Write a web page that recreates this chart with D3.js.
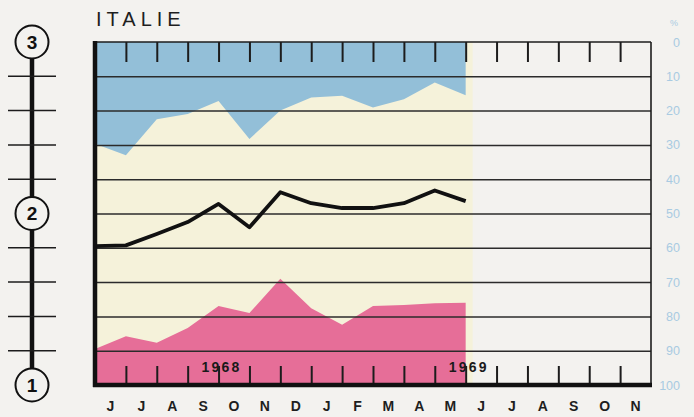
<!DOCTYPE html>
<html>
<head>
<meta charset="utf-8">
<script src="https://cdn.jsdelivr.net/npm/d3@7"></script>
<style>
  body { margin: 0; background: #f3f2ef; }
  svg { display: block; }
</style>
</head>
<body>
<svg id="chart" width="694" height="417"></svg>
<script>
// Month initials, June 1968 to November 1969
const months = ["J", "J", "A", "S", "O", "N", "D", "J", "F", "M", "A", "M", "J", "J", "A", "S", "O", "N"];
// Percent scale (0 at the top, 100 at the bottom)
const pctTicks = [0, 10, 20, 30, 40, 50, 60, 70, 80, 90, 100];
// Year markers placed on month boundaries
const yearNames = ["1968", "1969"];
const yearAt = [4, 12];
// Ringed markers on the left-hand scale
const ringNames = ["3", "2", "1"];
const ringAt = [0, 50, 100];
// Monthly readings (month boundaries 0..12), in percent from the top
const upperBand = [29.7, 33.0, 22.5, 21.0, 17.2, 28.3, 20.0, 16.2, 15.7, 19.1, 16.7, 11.8, 15.5];
const midLine   = [59.5, 59.3, 56.0, 52.5, 47.2, 54.0, 43.8, 47.0, 48.4, 48.4, 47.0, 43.3, 46.4];
const lowerBand = [89.5, 85.8, 87.7, 83.4, 77.0, 79.0, 69.0, 77.6, 82.4, 77.0, 76.7, 76.2, 76.0];

const svg = d3.select("#chart");
const plotL = 95, plotR = 651, plotT = 42, plotB = 385;

const x = d3.scaleLinear().domain([0, months.length]).range([plotL, plotR]);
const y = d3.scaleLinear().domain([0, 100]).range([plotT, plotB]);

const idx = d3.range(upperBand.length);
const lastX = x(idx.length - 1);

// Title
svg.append("text")
  .attr("x", 96).attr("y", 26)
  .attr("font-family", "Liberation Sans, Arial, sans-serif")
  .attr("font-size", 20)
  .attr("letter-spacing", 5)
  .attr("fill", "#1e1e1e")
  .text("ITALIE");

// Cream band covering the observed period
svg.append("rect")
  .attr("x", plotL).attr("y", plotT)
  .attr("width", lastX + 7 - plotL).attr("height", plotB - plotT)
  .attr("fill", "#f5f2da");

// Upper (blue) share, from the top edge down
svg.append("path")
  .datum(idx)
  .attr("fill", "#93bfd8")
  .attr("d", d3.area().x(i => x(i)).y0(y(0)).y1(i => y(upperBand[i])));

// Lower (pink) share, from the bottom edge up
svg.append("path")
  .datum(idx)
  .attr("fill", "#e66e98")
  .attr("d", d3.area().x(i => x(i)).y0(y(100)).y1(i => y(lowerBand[i])));

// Horizontal grid
const grid = svg.append("g")
  .attr("transform", `translate(${plotL},0)`)
  .call(d3.axisLeft(y).tickValues(pctTicks.slice(1, -1)).tickSize(-(plotR - plotL)).tickFormat(""));
grid.select(".domain").remove();
grid.selectAll("line").attr("stroke", "#2b2b2b").attr("stroke-width", 1.5);

// Month boundary ticks along the top and bottom edges
const bounds = d3.range(1, months.length);
const topTicks = svg.append("g")
  .attr("transform", `translate(0,${plotT})`)
  .call(d3.axisBottom(x).tickValues(bounds).tickSize(20).tickFormat(""));
topTicks.select(".domain").remove();
topTicks.selectAll("line").attr("stroke", "#1c1c1c").attr("stroke-width", 2);

const botTicks = svg.append("g")
  .attr("transform", `translate(0,${plotB})`)
  .call(d3.axisTop(x).tickValues(bounds).tickSize(19).tickFormat(""));
botTicks.select(".domain").remove();
botTicks.selectAll("line").attr("stroke", "#1c1c1c").attr("stroke-width", 2);

// Frame: thin top and right, heavy left and bottom
svg.append("line").attr("x1", plotL).attr("x2", plotR).attr("y1", plotT).attr("y2", plotT)
  .attr("stroke", "#1c1c1c").attr("stroke-width", 1.6);
svg.append("line").attr("x1", plotR).attr("x2", plotR).attr("y1", plotT).attr("y2", plotB)
  .attr("stroke", "#1c1c1c").attr("stroke-width", 1.6);
svg.append("line").attr("x1", plotL).attr("x2", plotL).attr("y1", plotT - 1).attr("y2", plotB + 2)
  .attr("stroke", "#111").attr("stroke-width", 4.5);
svg.append("line").attr("x1", plotL - 2).attr("x2", plotR + 1).attr("y1", plotB).attr("y2", plotB)
  .attr("stroke", "#111").attr("stroke-width", 4.5);

// Middle series line
svg.append("path")
  .datum(idx)
  .attr("fill", "none")
  .attr("stroke", "#111")
  .attr("stroke-width", 3.8)
  .attr("stroke-linejoin", "round")
  .attr("d", d3.line().x(i => x(i)).y(i => y(midLine[i])));

// Year labels
svg.append("g").selectAll("text")
  .data(yearNames)
  .join("text")
  .attr("x", (d, i) => x(yearAt[i]) + 3)
  .attr("y", 371.5)
  .attr("text-anchor", "middle")
  .attr("font-family", "Liberation Sans, Arial, sans-serif")
  .attr("font-weight", "bold")
  .attr("font-size", 14)
  .attr("letter-spacing", 2.2)
  .attr("fill", "#1a1a1a")
  .text(d => d);

// Month labels, centred in each month
svg.append("g").selectAll("text")
  .data(months)
  .join("text")
  .attr("x", (d, i) => x(i + 0.5))
  .attr("y", 411)
  .attr("text-anchor", "middle")
  .attr("font-family", "Liberation Sans, Arial, sans-serif")
  .attr("font-weight", "bold")
  .attr("font-size", 14)
  .attr("fill", "#1e1e1e")
  .text(d => d);

// Right-hand percent axis
const pctAxis = svg.append("g")
  .attr("transform", `translate(680,0)`)
  .call(d3.axisLeft(y).tickValues(pctTicks).tickSize(0).tickPadding(0));
pctAxis.select(".domain").remove();
pctAxis.selectAll("text")
  .attr("font-family", "Liberation Sans, Arial, sans-serif")
  .attr("font-size", 12.5)
  .attr("fill", "#a9cbe2");
svg.append("text")
  .attr("x", 674).attr("y", 26)
  .attr("text-anchor", "middle")
  .attr("font-family", "Liberation Sans, Arial, sans-serif")
  .attr("font-size", 9)
  .attr("fill", "#a9cbe2")
  .text("%");

// Left-hand ringed scale
const sx = 32, r = 16.5;
const scaleG = svg.append("g");
scaleG.append("line")
  .attr("x1", sx).attr("x2", sx)
  .attr("y1", y(ringAt[0])).attr("y2", y(ringAt[ringAt.length - 1]))
  .attr("stroke", "#111").attr("stroke-width", 4.5);
scaleG.selectAll("line.mark")
  .data(pctTicks.filter(v => !ringAt.includes(v)))
  .join("line")
  .attr("class", "mark")
  .attr("x1", 8).attr("x2", 56)
  .attr("y1", d => y(d)).attr("y2", d => y(d))
  .attr("stroke", "#1c1c1c").attr("stroke-width", 1.5);
const rings = scaleG.selectAll("g.ring")
  .data(ringNames)
  .join("g")
  .attr("class", "ring")
  .attr("transform", (d, i) => `translate(${sx},${y(ringAt[i])})`);
rings.append("circle")
  .attr("r", r)
  .attr("fill", "#f3f2ef")
  .attr("stroke", "#111")
  .attr("stroke-width", 2);
rings.append("text")
  .attr("text-anchor", "middle")
  .attr("dy", "0.36em")
  .attr("font-family", "Liberation Sans, Arial, sans-serif")
  .attr("font-weight", "bold")
  .attr("font-size", 19)
  .attr("fill", "#111")
  .text(d => d);
</script>
</body>
</html>
